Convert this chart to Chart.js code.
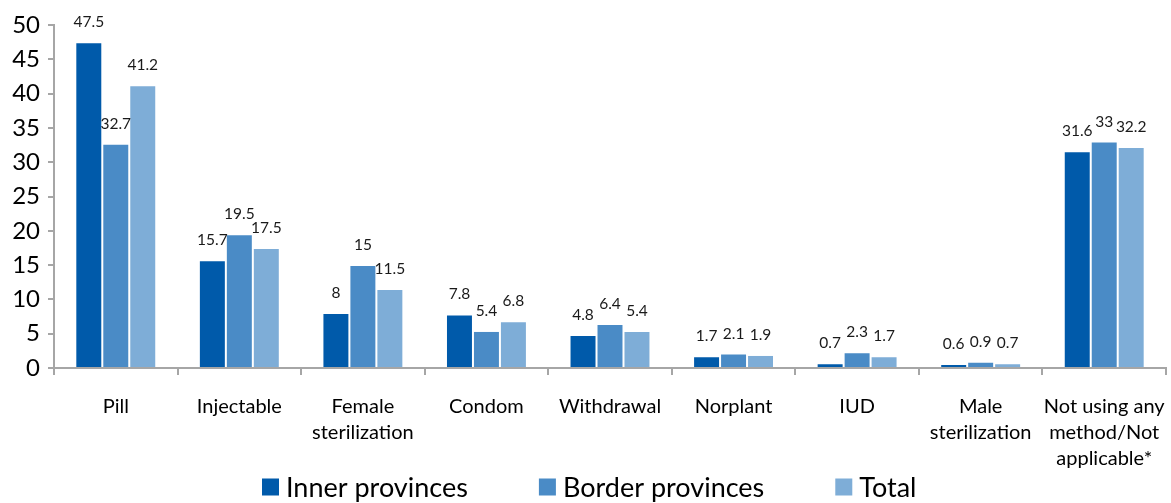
<!DOCTYPE html>
<html>
<head>
<meta charset="utf-8">
<script src="https://cdn.jsdelivr.net/npm/chart.js@4.4.1/dist/chart.umd.min.js"></script>
<style>
html,body{margin:0;padding:0;background:#fff;}
#wrap{width:1171px;height:503px;position:relative;}
</style>
</head>
<body>
<div id="wrap"><canvas id="c" width="1171" height="503"></canvas></div>
<script>
const categories = [
  "Pill",
  "Injectable",
  ["Female", "sterilization"],
  "Condom",
  "Withdrawal",
  "Norplant",
  "IUD",
  ["Male", "sterilization"],
  ["Not using any", "method/Not", "applicable*"]
];
const innerProvinces = [47.5, 15.7, 8, 7.8, 4.8, 1.7, 0.7, 0.6, 31.6];
const borderProvinces = [32.7, 19.5, 15, 5.4, 6.4, 2.1, 2.3, 0.9, 33];
const totalValues = [41.2, 17.5, 11.5, 6.8, 5.4, 1.9, 1.7, 0.7, 32.2];
const seriesNames = ["Inner provinces", "Border provinces", "Total"];
const seriesColors = ["#005AAA", "#4A8BC6", "#7EADD7"];
const yTicks = [0, 5, 10, 15, 20, 25, 30, 35, 40, 45, 50];

const FONT = "Lato, 'Open Sans', sans-serif";

const valueLabels = {
  id: 'valueLabels',
  afterDatasetsDraw(chart) {
    const ctx = chart.ctx;
    ctx.save();
    ctx.font = "15.5px " + FONT;
    ctx.fillStyle = "#1a1a1a";
    ctx.textAlign = "center";
    ctx.textBaseline = "middle";
    chart.data.datasets.forEach((ds, di) => {
      const meta = chart.getDatasetMeta(di);
      meta.data.forEach((bar, i) => {
        ctx.fillText(String(ds.data[i]), bar.x, bar.y - 20);
      });
    });
    ctx.restore();
  }
};

// legend drawn from the chart's datasets
const customLegend = {
  id: 'customLegend',
  afterDraw(chart) {
    const ctx = chart.ctx;
    const startX = 262, centerY = 487, box = 17, textGap = 7, itemGap = 71;
    ctx.save();
    ctx.font = "27px " + FONT;
    ctx.textBaseline = "middle";
    ctx.textAlign = "left";
    let x = startX;
    chart.data.datasets.forEach(ds => {
      ctx.fillStyle = ds.backgroundColor;
      ctx.fillRect(x, centerY - box / 2, box, box);
      x += box + textGap;
      ctx.fillStyle = "#000";
      ctx.fillText(ds.label, x, centerY + 1);
      x += ctx.measureText(ds.label).width + itemGap;
    });
    ctx.restore();
  }
};

const datasets = [innerProvinces, borderProvinces, totalValues].map((d, i) => ({
  label: seriesNames[i],
  data: d,
  backgroundColor: seriesColors[i],
  borderColor: "rgba(255,255,255,0.35)",
  borderWidth: 1,
  barPercentage: 1.0,
  categoryPercentage: 0.655
}));

new Chart(document.getElementById('c'), {
  type: 'bar',
  data: { labels: categories, datasets },
  plugins: [valueLabels, customLegend],
  options: {
    responsive: false,
    animation: false,
    devicePixelRatio: 1,
    layout: { padding: { top: 25, right: 5, left: 0, bottom: 29 } },
    plugins: {
      legend: { display: false },
      tooltip: { enabled: false }
    },
    scales: {
      x: {
        grid: {
          display: true,
          drawOnChartArea: false,
          drawTicks: true,
          tickLength: 7,
          color: "#A6A6A6",
          lineWidth: 2,
          offset: true
        },
        border: { display: true, color: "#A6A6A6", width: 2 },
        ticks: {
          font: { size: 20, family: FONT, lineHeight: 1.3 },
          color: "#000",
          padding: 19,
          maxRotation: 0,
          autoSkip: false
        },
        afterFit(scale) {
          scale.height = 106;
          scale.paddingLeft = 0;
          scale.paddingRight = 0;
        }
      },
      y: {
        min: 0,
        max: 50,
        afterBuildTicks(scale) { scale.ticks = yTicks.map(v => ({ value: v })); },
        grid: {
          display: true,
          drawOnChartArea: false,
          drawTicks: true,
          tickLength: 6,
          color: "#A6A6A6",
          lineWidth: 2
        },
        border: { display: true, color: "#A6A6A6", width: 2 },
        ticks: {
          font: { size: 24, family: FONT },
          color: "#000",
          padding: 8
        },
        afterFit(scale) { scale.width = 54; }
      }
    }
  }
});
</script>
</body>
</html>
